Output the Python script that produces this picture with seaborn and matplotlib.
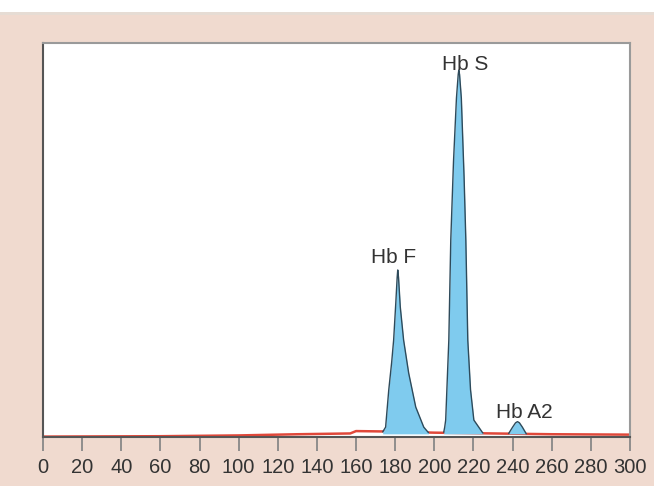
import matplotlib
matplotlib.use("Agg")
import matplotlib.pyplot as plt
import seaborn as sns
from matplotlib.patches import Rectangle

# Retention time axis ticks
tick_values = list(range(0, 301, 20))

# Red baseline trace
baseline_x = [0, 60, 100, 130, 157, 160, 175, 200, 230, 260, 300]
baseline_y = [0.1, 0.2, 0.4, 0.7, 0.9, 1.5, 1.4, 1.1, 0.9, 0.7, 0.6]

# Hb F peak
hbf_x = [173.6, 175.1, 176.7, 178.2, 179.2, 180.3, 181.0, 181.3, 181.7, 182.6,
         184.3, 186.9, 190.5, 194.6, 197.0]
hbf_y = [1.3, 2.5, 11.9, 19.0, 24.6, 34.0, 40.5, 42.4, 40.5, 33.0,
         24.6, 16.2, 7.6, 2.5, 1.1]

# Hb S peak
hbs_x = [204.8, 205.3, 205.8, 207.4, 208.4, 209.8, 211.3, 212.2, 212.5, 212.9,
         213.8, 215.2, 216.1, 217.1, 218.5, 220.2, 224.8]
hbs_y = [1.2, 2.5, 4.3, 24.6, 50.0, 70.0, 86.0, 92.0, 93.1, 92.0,
         86.0, 66.0, 50.0, 24.6, 12.0, 4.3, 1.0]

# Hb A2 peak
hba2_x = [238.0, 240.0, 241.5, 242.5, 243.5, 245.0, 247.0]
hba2_y = [0.9, 2.5, 3.6, 3.9, 3.6, 2.5, 0.8]

peak_labels = ["Hb F", "Hb S", "Hb A2"]
label_x = [179.0, 216.0, 246.0]
label_y = [44.2, 93.1, 4.8]

sns.set_theme(style="white")
plt.rcParams['font.family'] = ['Liberation Sans', 'DejaVu Sans']

fig = plt.figure(figsize=(6.54, 4.86), dpi=100)
fig.patch.set_facecolor('#f0dacf')
fig.patches.append(Rectangle((0, 1 - 12 / 486), 1, 12 / 486, transform=fig.transFigure,
                             facecolor='white', edgecolor='none', zorder=0))
fig.patches.append(Rectangle((0, 1 - 15 / 486), 1, 3 / 486, transform=fig.transFigure,
                             facecolor='#e6dcd4', edgecolor='none', zorder=0))

ax = fig.add_axes([43 / 654, 49 / 486, 587 / 654, 394 / 486])
ax.set_facecolor('white')

sns.lineplot(x=baseline_x, y=baseline_y, ax=ax, color='#e0483a', linewidth=1.8,
             sort=False, zorder=2)

for px, py in [(hbf_x, hbf_y), (hbs_x, hbs_y), (hba2_x, hba2_y)]:
    ax.fill_between(px, 0.8, py, color='#7fcbee', zorder=3, linewidth=0)
    sns.lineplot(x=px, y=py, ax=ax, color='#2e4a5a', linewidth=1.0, sort=False, zorder=4)

for text, tx, ty in zip(peak_labels, label_x, label_y):
    ax.text(tx, ty, text, ha='center', va='baseline', fontsize=15, color='#333333',
            zorder=5)

ax.set_xlim(0, 300)
ax.set_ylim(0, 100)
ax.set_xticks(tick_values)
ax.set_xticklabels([str(v) for v in tick_values], fontsize=14.5, color='#333333')
ax.set_yticks([])
ax.tick_params(axis='x', direction='out', length=10, width=1.3, color='#888888', pad=5,
               bottom=True)
for side in ['top', 'right']:
    ax.spines[side].set_color('#9a9a9a')
    ax.spines[side].set_linewidth(1.5)
for side in ['left', 'bottom']:
    ax.spines[side].set_color('#555555')
    ax.spines[side].set_linewidth(1.5)

fig.savefig('out.png', dpi=100, facecolor=fig.get_facecolor())
